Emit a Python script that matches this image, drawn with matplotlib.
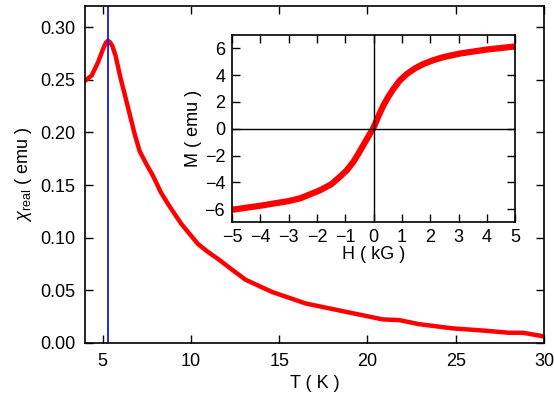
import matplotlib
matplotlib.use('Agg')
import matplotlib.pyplot as plt

# chi_real vs T (main panel)
temp = [4.0, 4.38, 4.75, 5.03, 5.18, 5.3, 5.42, 5.55, 5.73, 5.98, 6.26, 6.54, 6.82, 7.1,
        7.49, 7.86, 8.3, 8.71, 9.1, 9.46, 10.4, 11.0, 11.6, 12.3, 13.1, 14.6,
        16.5, 18.8, 19.7, 20.85, 21.8, 22.9, 24.8, 26.7, 28.0, 28.8, 29.8, 30.0]
chi = [0.249, 0.254, 0.267, 0.2795, 0.285, 0.287, 0.2855, 0.282, 0.273, 0.254, 0.2355,
       0.2167, 0.198, 0.182, 0.1695, 0.1585, 0.143, 0.1318, 0.122, 0.113, 0.094,
       0.086, 0.079, 0.070, 0.060, 0.0484, 0.0375, 0.0295, 0.0264, 0.0224, 0.0217,
       0.0179, 0.0139, 0.0116, 0.0097, 0.0097, 0.0068, 0.0060]
t_peak = 5.3

# M vs H (inset)
field = [-5.0, -4.0, -3.0, -2.6, -1.9, -1.5, -1.2, -0.95, -0.72, -0.55, -0.37, -0.18,
         0.0, 0.17, 0.34, 0.52, 0.7, 0.92, 1.17, 1.45, 1.76, 2.1, 2.46, 3.05, 4.0, 5.0]
moment = [-6.05, -5.75, -5.4, -5.2, -4.6, -4.15, -3.6, -3.1, -2.48, -1.9, -1.24, -0.55,
          0.1, 0.95, 1.73, 2.4, 2.98, 3.6, 4.09, 4.5, 4.84, 5.12, 5.35, 5.62, 5.92, 6.15]

plt.rcParams['font.family'] = ['Liberation Sans', 'DejaVu Sans']
plt.rcParams['font.size'] = 13
plt.rcParams['mathtext.fontset'] = 'custom'
plt.rcParams['mathtext.rm'] = 'Liberation Sans'
plt.rcParams['mathtext.it'] = 'Liberation Sans:italic'

fig = plt.figure(figsize=(5.54, 4.03), dpi=100)
ax = fig.add_axes([0.1534, 0.149, 0.8286, 0.836])
ax.plot(temp, chi, color='red', lw=3.2, solid_joinstyle='round')
ax.axvline(t_peak, color='blue', lw=1.2)
ax.set_xlim(4, 30)
ax.set_ylim(0, 0.32)
ax.set_xticks([5, 10, 15, 20, 25, 30])
ax.set_yticks([0, 0.05, 0.10, 0.15, 0.20, 0.25, 0.30])
ax.set_yticklabels(['0.00', '0.05', '0.10', '0.15', '0.20', '0.25', '0.30'])
ax.tick_params(direction='in', top=True, right=True, length=6, width=1, pad=7)
ax.set_xlabel('T ( K )', labelpad=4)
ax.set_ylabel(r'$\chi_{\rm real}$ ( emu )', labelpad=4)
for s in ax.spines.values():
    s.set_linewidth(1.2)

ins = fig.add_axes([0.419, 0.448, 0.511, 0.465])
ins.plot(field, moment, color='red', lw=4.5, solid_joinstyle='round')
ins.axhline(0, color='black', lw=1)
ins.axvline(0, color='black', lw=1)
ins.set_xlim(-5, 5)
ins.set_ylim(-7, 7)
ins.set_xticks(range(-5, 6))
ins.set_yticks(range(-6, 7, 2))
ins.set_xticklabels([str(v).replace('-', '\u2212') for v in range(-5, 6)])
ins.set_yticklabels([str(v).replace('-', '\u2212') for v in range(-6, 7, 2)])
ins.tick_params(direction='in', top=True, right=True, length=6, width=1, pad=5)
ins.set_xlabel('H ( kG )', labelpad=0)
ins.set_ylabel('M ( emu )', labelpad=2)
for s in ins.spines.values():
    s.set_linewidth(1.2)

fig.savefig('out.png', dpi=100)
